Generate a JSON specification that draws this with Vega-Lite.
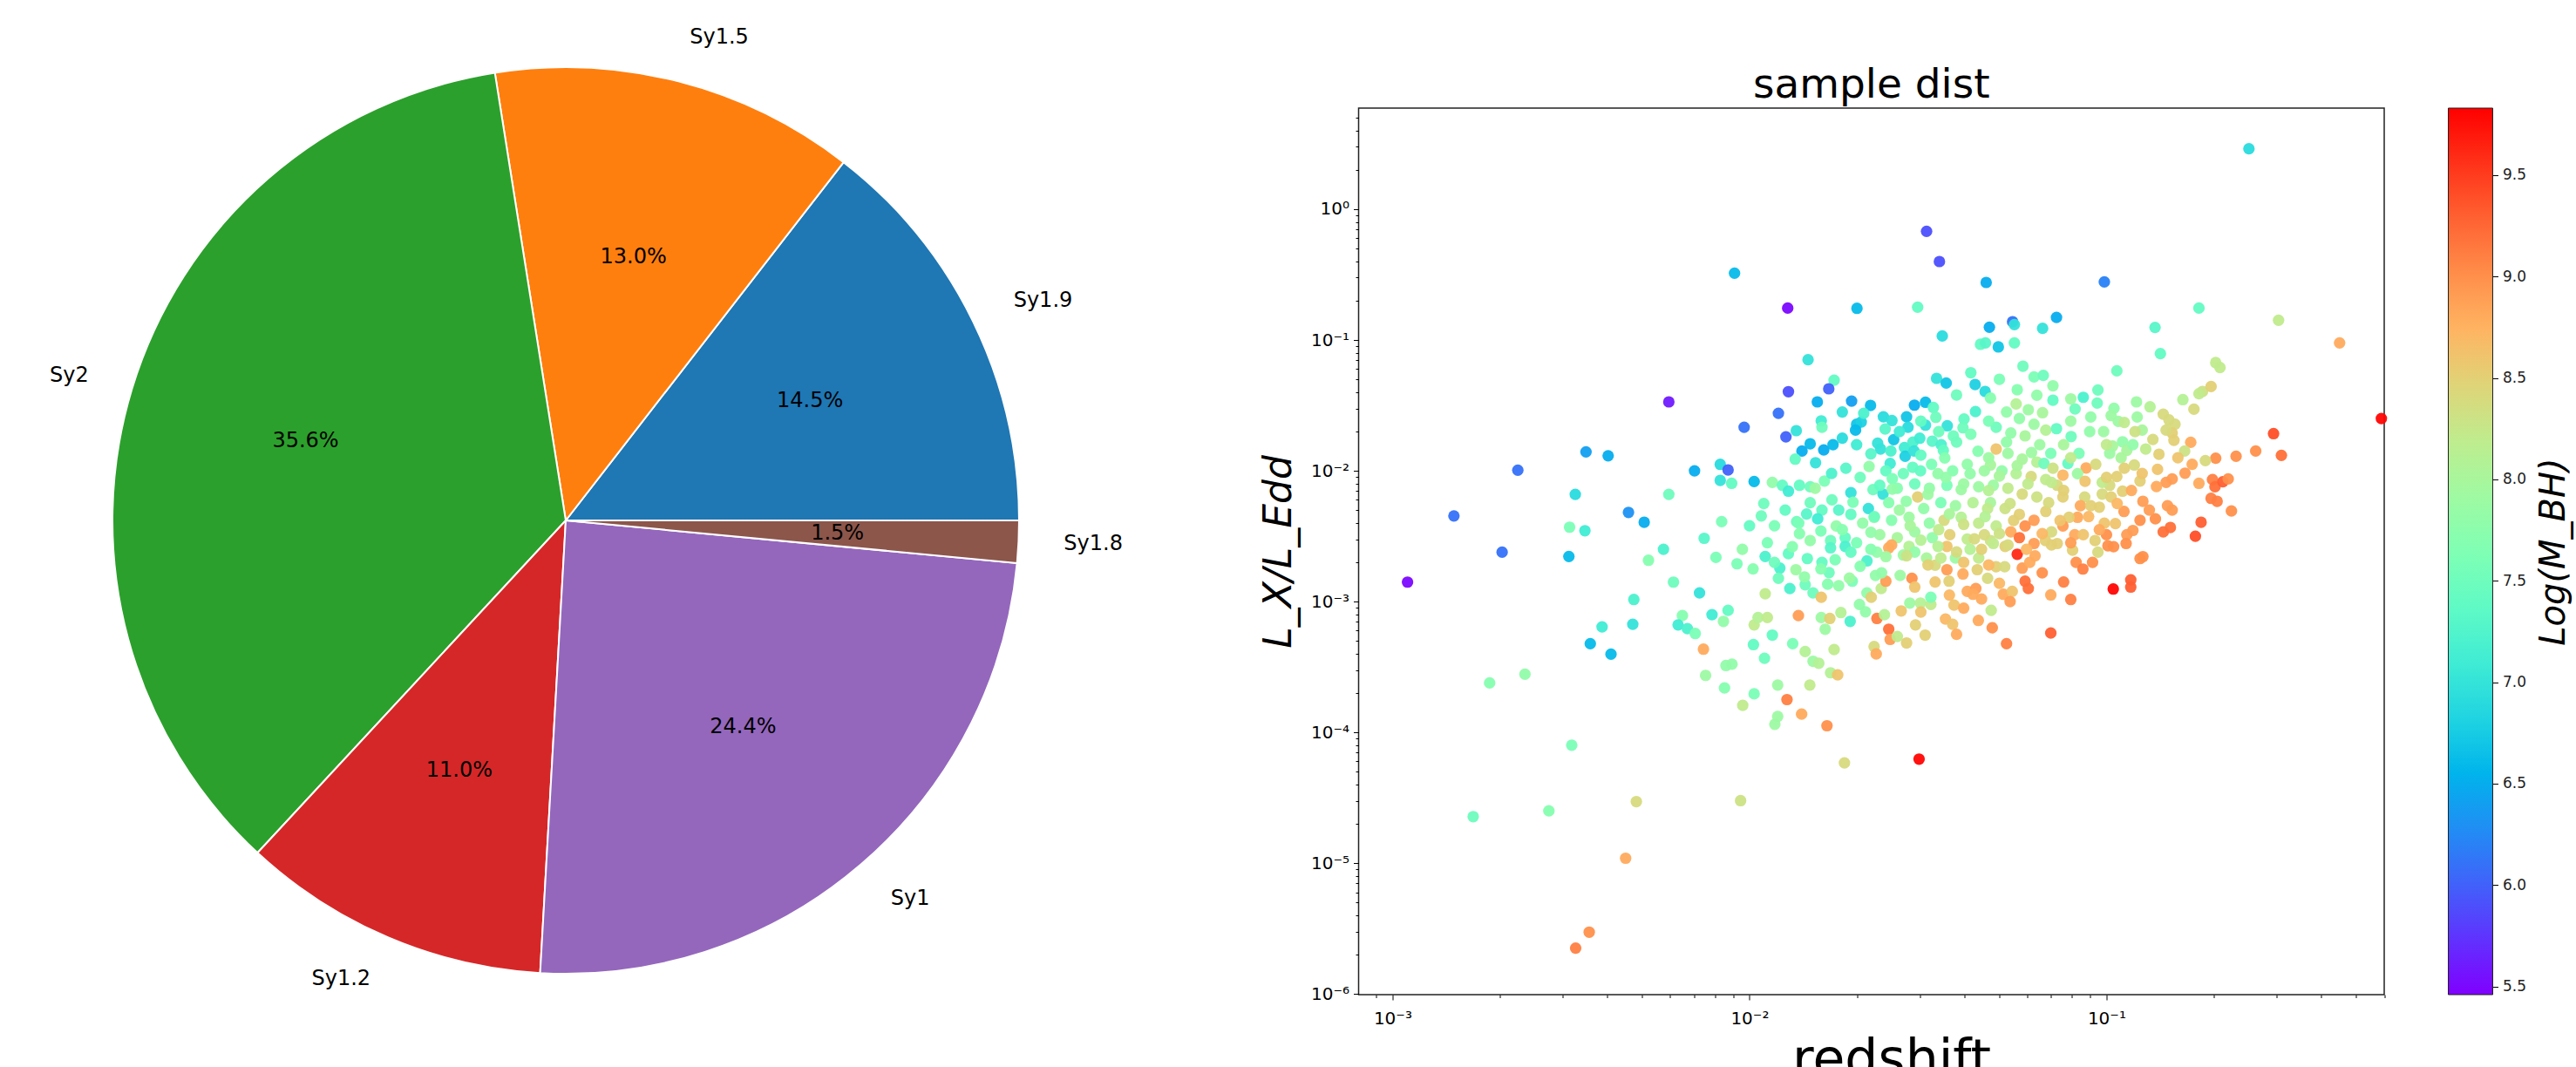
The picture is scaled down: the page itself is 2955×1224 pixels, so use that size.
{
  "$schema": "https://vega.github.io/schema/vega-lite/v6.json",
  "autosize": {"type": "none"},
  "padding": {"left": 0, "top": 124, "right": 2955, "bottom": 1100},
  "background": "white",
  "config": {
    "font": "DejaVu Sans",
    "view": {"stroke": null},
    "axis": {"labelFont": "DejaVu Sans", "titleFont": "DejaVu Sans"}
  },
  "bounds": "flush",
  "spacing": 260.5,
  "hconcat": [
    {
      "width": 1298,
      "height": 946,
      "data": {
        "values": [
          {"type": "Sy1.9", "share": 0.145, "order": 1},
          {"type": "Sy1.5", "share": 0.13, "order": 2},
          {"type": "Sy2", "share": 0.356, "order": 3},
          {"type": "Sy1.2", "share": 0.11, "order": 4},
          {"type": "Sy1", "share": 0.244, "order": 5},
          {"type": "Sy1.8", "share": 0.015, "order": 6}
        ]
      },
      "encoding": {
        "theta": {"field": "share", "type": "quantitative", "stack": true, "scale": {"domain": [0, 1], "range": [1.5708, -4.7124]}},
        "order": {"field": "order", "type": "quantitative"},
        "color": {
          "field": "type", "type": "nominal", "legend": null,
          "scale": {"domain": ["Sy1.9", "Sy1.5", "Sy2", "Sy1.2", "Sy1", "Sy1.8"], "range": ["#1f77b4", "#ff7f0e", "#2ca02c", "#d62728", "#9467bd", "#8c564b"]}
        }
      },
      "layer": [
        {"mark": {"type": "arc", "outerRadius": 520, "stroke": "white", "strokeWidth": 2}},
        {
          "mark": {"type": "text", "radius": 312, "fontSize": 24, "align": "center", "baseline": "middle"},
          "encoding": {"text": {"field": "share", "type": "quantitative", "format": ".1%"}, "color": {"value": "black"}}
        },
        {
          "mark": {"type": "text", "radius": 572, "fontSize": 24, "align": "left", "baseline": "middle"},
          "encoding": {
            "text": {"condition": {"test": "datum.type === 'Sy2' || datum.type === 'Sy1.2'", "value": ""}, "field": "type", "type": "nominal"},
            "color": {"value": "black"}
          }
        },
        {
          "mark": {"type": "text", "radius": 572, "fontSize": 24, "align": "right", "baseline": "middle"},
          "encoding": {
            "text": {"condition": {"test": "datum.type !== 'Sy2' && datum.type !== 'Sy1.2'", "value": ""}, "field": "type", "type": "nominal"},
            "color": {"value": "black"}
          }
        }
      ]
    },
    {
      "bounds": "flush",
      "spacing": 73,
      "hconcat": [
        {
          "width": 1176.5,
          "height": 1017,
          "view": {"stroke": "#222", "strokeWidth": 1.5},
          "title": {"text": "sample dist", "fontSize": 47, "fontWeight": "normal", "color": "black", "frame": "group", "anchor": "middle", "baseline": "alphabetic", "offset": 12, "dy": 47},
          "data": {
            "values": [
              {"logz": -2.226, "logr": -1.473, "logm": 5.6},
              {"logz": -2.458, "logr": -1.855, "logm": 6.4},
              {"logz": -2.396, "logr": -1.885, "logm": 6.5},
              {"logz": -2.649, "logr": -1.995, "logm": 6.1},
              {"logz": -2.154, "logr": -2.0, "logm": 6.5},
              {"logz": -2.488, "logr": -2.18, "logm": 6.9},
              {"logz": -2.226, "logr": -2.18, "logm": 7.5},
              {"logz": -2.828, "logr": -2.345, "logm": 6.1},
              {"logz": -2.339, "logr": -2.318, "logm": 6.3},
              {"logz": -2.295, "logr": -2.393, "logm": 6.5},
              {"logz": -2.504, "logr": -2.431, "logm": 7.6},
              {"logz": -2.461, "logr": -2.458, "logm": 7.1},
              {"logz": -2.127, "logr": -2.516, "logm": 7.3},
              {"logz": -2.958, "logr": -2.851, "logm": 5.5},
              {"logz": -2.693, "logr": -2.622, "logm": 6.1},
              {"logz": -2.506, "logr": -2.655, "logm": 6.6},
              {"logz": -2.283, "logr": -2.684, "logm": 7.7},
              {"logz": -2.241, "logr": -2.6, "logm": 7.2},
              {"logz": -2.213, "logr": -2.851, "logm": 7.5},
              {"logz": -2.14, "logr": -2.933, "logm": 7.0},
              {"logz": -2.324, "logr": -2.984, "logm": 7.2},
              {"logz": -2.327, "logr": -3.173, "logm": 7.0},
              {"logz": -2.413, "logr": -3.193, "logm": 7.1},
              {"logz": -2.446, "logr": -3.322, "logm": 6.6},
              {"logz": -2.388, "logr": -3.402, "logm": 6.6},
              {"logz": -2.188, "logr": -3.107, "logm": 7.7},
              {"logz": -2.2, "logr": -3.178, "logm": 7.1},
              {"logz": -2.174, "logr": -3.207, "logm": 7.2},
              {"logz": -2.152, "logr": -3.244, "logm": 7.6},
              {"logz": -2.129, "logr": -3.364, "logm": 8.8},
              {"logz": -2.123, "logr": -3.564, "logm": 7.9},
              {"logz": -2.728, "logr": -3.622, "logm": 7.7},
              {"logz": -2.629, "logr": -3.555, "logm": 7.8},
              {"logz": -2.498, "logr": -4.098, "logm": 7.6},
              {"logz": -2.774, "logr": -4.644, "logm": 7.5},
              {"logz": -2.562, "logr": -4.6, "logm": 7.7},
              {"logz": -2.317, "logr": -4.529, "logm": 8.4},
              {"logz": -2.347, "logr": -4.962, "logm": 8.8},
              {"logz": -2.449, "logr": -5.527, "logm": 9.0},
              {"logz": -2.487, "logr": -5.649, "logm": 9.1},
              {"logz": -1.504, "logr": -0.169, "logm": 5.9},
              {"logz": -1.468, "logr": -0.4, "logm": 5.9},
              {"logz": -2.042, "logr": -0.489, "logm": 6.6},
              {"logz": -1.337, "logr": -0.56, "logm": 6.5},
              {"logz": -1.893, "logr": -0.756, "logm": 5.5},
              {"logz": -1.699, "logr": -0.758, "logm": 6.6},
              {"logz": -1.529, "logr": -0.749, "logm": 7.4},
              {"logz": -1.328, "logr": -0.902, "logm": 6.5},
              {"logz": -1.263, "logr": -0.86, "logm": 6.1},
              {"logz": -1.258, "logr": -0.882, "logm": 7.0},
              {"logz": -1.46, "logr": -0.969, "logm": 6.9},
              {"logz": -1.179, "logr": -0.911, "logm": 7.0},
              {"logz": -1.353, "logr": -1.033, "logm": 7.4},
              {"logz": -1.339, "logr": -1.022, "logm": 7.3},
              {"logz": -1.303, "logr": -1.053, "logm": 6.7},
              {"logz": -1.258, "logr": -1.022, "logm": 7.4},
              {"logz": -1.836, "logr": -1.151, "logm": 7.0},
              {"logz": -1.234, "logr": -1.2, "logm": 7.5},
              {"logz": -1.203, "logr": -1.282, "logm": 7.6},
              {"logz": -1.177, "logr": -1.271, "logm": 7.5},
              {"logz": -1.763, "logr": -1.307, "logm": 7.4},
              {"logz": -1.891, "logr": -1.395, "logm": 5.9},
              {"logz": -1.778, "logr": -1.373, "logm": 6.0},
              {"logz": -1.476, "logr": -1.293, "logm": 7.0},
              {"logz": -1.449, "logr": -1.329, "logm": 6.7},
              {"logz": -1.368, "logr": -1.34, "logm": 6.8},
              {"logz": -1.34, "logr": -1.393, "logm": 6.9},
              {"logz": -1.325, "logr": -1.444, "logm": 7.7},
              {"logz": -1.919, "logr": -1.56, "logm": 6.1},
              {"logz": -2.015, "logr": -1.667, "logm": 6.1},
              {"logz": -1.898, "logr": -1.74, "logm": 6.0},
              {"logz": -1.81, "logr": -1.473, "logm": 6.5},
              {"logz": -1.714, "logr": -1.467, "logm": 6.4},
              {"logz": -1.661, "logr": -1.5, "logm": 6.6},
              {"logz": -1.799, "logr": -1.618, "logm": 7.1},
              {"logz": -1.797, "logr": -1.667, "logm": 7.5},
              {"logz": -1.869, "logr": -1.693, "logm": 7.0},
              {"logz": -1.7, "logr": -1.644, "logm": 6.7},
              {"logz": -1.687, "logr": -1.627, "logm": 6.8},
              {"logz": -1.703, "logr": -1.689, "logm": 6.6},
              {"logz": -1.625, "logr": -1.587, "logm": 6.9},
              {"logz": -1.601, "logr": -1.616, "logm": 7.0},
              {"logz": -1.56, "logr": -1.587, "logm": 6.7},
              {"logz": -1.538, "logr": -1.498, "logm": 6.5},
              {"logz": -1.507, "logr": -1.476, "logm": 6.6},
              {"logz": -1.485, "logr": -1.516, "logm": 7.4},
              {"logz": -1.478, "logr": -1.591, "logm": 7.5},
              {"logz": -1.556, "logr": -1.667, "logm": 6.9},
              {"logz": -1.507, "logr": -1.651, "logm": 7.0},
              {"logz": -1.446, "logr": -1.656, "logm": 7.0},
              {"logz": -1.399, "logr": -1.604, "logm": 7.4},
              {"logz": -1.367, "logr": -1.547, "logm": 7.2},
              {"logz": -1.429, "logr": -1.733, "logm": 7.5},
              {"logz": -1.402, "logr": -1.671, "logm": 7.5},
              {"logz": -1.83, "logr": -1.793, "logm": 6.6},
              {"logz": -1.853, "logr": -1.849, "logm": 6.5},
              {"logz": -1.792, "logr": -1.84, "logm": 6.5},
              {"logz": -1.766, "logr": -1.8, "logm": 6.6},
              {"logz": -1.872, "logr": -1.911, "logm": 7.4},
              {"logz": -1.815, "logr": -1.938, "logm": 7.0},
              {"logz": -1.641, "logr": -1.789, "logm": 7.0},
              {"logz": -1.596, "logr": -1.762, "logm": 6.7},
              {"logz": -1.633, "logr": -1.833, "logm": 7.0},
              {"logz": -1.604, "logr": -1.849, "logm": 7.2},
              {"logz": -1.566, "logr": -1.822, "logm": 7.1},
              {"logz": -1.542, "logr": -1.78, "logm": 7.2},
              {"logz": -1.523, "logr": -1.751, "logm": 7.1},
              {"logz": -1.564, "logr": -1.889, "logm": 6.8},
              {"logz": -1.539, "logr": -1.849, "logm": 7.0},
              {"logz": -1.488, "logr": -1.773, "logm": 7.3},
              {"logz": -1.463, "logr": -1.8, "logm": 7.2},
              {"logz": -1.457, "logr": -1.844, "logm": 7.4},
              {"logz": -1.453, "logr": -1.902, "logm": 7.7},
              {"logz": -1.606, "logr": -1.944, "logm": 7.1},
              {"logz": -1.665, "logr": -1.967, "logm": 7.8},
              {"logz": -1.543, "logr": -1.973, "logm": 7.4},
              {"logz": -2.082, "logr": -1.951, "logm": 6.9},
              {"logz": -2.06, "logr": -1.993, "logm": 6.0},
              {"logz": -2.082, "logr": -2.073, "logm": 7.0},
              {"logz": -2.05, "logr": -2.096, "logm": 7.4},
              {"logz": -1.987, "logr": -2.082, "logm": 6.6},
              {"logz": -1.936, "logr": -2.089, "logm": 7.8},
              {"logz": -1.908, "logr": -2.111, "logm": 7.4},
              {"logz": -1.891, "logr": -2.156, "logm": 7.1},
              {"logz": -1.86, "logr": -2.111, "logm": 7.4},
              {"logz": -1.83, "logr": -2.122, "logm": 7.5},
              {"logz": -1.79, "logr": -2.078, "logm": 7.6},
              {"logz": -1.816, "logr": -2.133, "logm": 7.9},
              {"logz": -1.716, "logr": -2.167, "logm": 7.0},
              {"logz": -1.654, "logr": -2.144, "logm": 7.5},
              {"logz": -1.626, "logr": -2.178, "logm": 7.0},
              {"logz": -2.078, "logr": -2.389, "logm": 7.6},
              {"logz": -1.967, "logr": -2.345, "logm": 7.5},
              {"logz": -1.868, "logr": -2.389, "logm": 7.5},
              {"logz": -1.253, "logr": -1.489, "logm": 8.1},
              {"logz": -1.219, "logr": -1.533, "logm": 7.9},
              {"logz": -1.195, "logr": -1.422, "logm": 7.8},
              {"logz": -1.179, "logr": -1.556, "logm": 8.0},
              {"logz": -1.244, "logr": -1.6, "logm": 7.8},
              {"logz": -1.203, "logr": -1.644, "logm": 7.9},
              {"logz": -1.17, "logr": -1.689, "logm": 8.1},
              {"logz": -1.309, "logr": -1.667, "logm": 7.5},
              {"logz": -1.268, "logr": -1.711, "logm": 7.8},
              {"logz": -1.228, "logr": -1.733, "logm": 8.0},
              {"logz": -1.187, "logr": -1.8, "logm": 7.9},
              {"logz": -1.309, "logr": -1.833, "logm": 8.6},
              {"logz": -1.276, "logr": -1.867, "logm": 7.9},
              {"logz": -1.236, "logr": -1.911, "logm": 8.0},
              {"logz": -1.195, "logr": -1.933, "logm": 8.1},
              {"logz": -1.325, "logr": -1.956, "logm": 8.0},
              {"logz": -1.293, "logr": -2.0, "logm": 7.8},
              {"logz": -1.253, "logr": -2.022, "logm": 8.1},
              {"logz": -1.211, "logr": -2.044, "logm": 8.4},
              {"logz": -1.17, "logr": -2.067, "logm": 8.2},
              {"logz": -1.317, "logr": -2.111, "logm": 7.9},
              {"logz": -1.276, "logr": -2.133, "logm": 8.2},
              {"logz": -1.236, "logr": -2.178, "logm": 8.4},
              {"logz": -1.195, "logr": -2.2, "logm": 8.3},
              {"logz": -1.325, "logr": -2.244, "logm": 8.0},
              {"logz": -1.284, "logr": -2.289, "logm": 8.3},
              {"logz": -1.244, "logr": -2.333, "logm": 8.5},
              {"logz": -1.203, "logr": -2.378, "logm": 8.9},
              {"logz": -1.17, "logr": -2.311, "logm": 8.5},
              {"logz": -1.309, "logr": -2.422, "logm": 8.2},
              {"logz": -1.268, "logr": -2.467, "logm": 8.8},
              {"logz": -1.228, "logr": -2.422, "logm": 9.0},
              {"logz": -1.244, "logr": -2.511, "logm": 9.2},
              {"logz": -1.203, "logr": -2.556, "logm": 8.9},
              {"logz": -1.325, "logr": -2.533, "logm": 8.3},
              {"logz": -1.284, "logr": -2.578, "logm": 8.5},
              {"logz": -1.618, "logr": -2.0, "logm": 7.4},
              {"logz": -1.569, "logr": -2.022, "logm": 7.5},
              {"logz": -1.521, "logr": -2.0, "logm": 7.4},
              {"logz": -1.472, "logr": -2.022, "logm": 7.8},
              {"logz": -1.431, "logr": -2.0, "logm": 7.7},
              {"logz": -1.382, "logr": -2.022, "logm": 7.8},
              {"logz": -1.342, "logr": -2.0, "logm": 7.9},
              {"logz": -1.635, "logr": -2.111, "logm": 7.4},
              {"logz": -1.586, "logr": -2.133, "logm": 7.7},
              {"logz": -1.537, "logr": -2.1, "logm": 7.5},
              {"logz": -1.496, "logr": -2.133, "logm": 7.8},
              {"logz": -1.447, "logr": -2.111, "logm": 7.6},
              {"logz": -1.407, "logr": -2.144, "logm": 7.9},
              {"logz": -1.358, "logr": -2.122, "logm": 7.9},
              {"logz": -1.61, "logr": -2.244, "logm": 7.7},
              {"logz": -1.561, "logr": -2.233, "logm": 7.8},
              {"logz": -1.529, "logr": -2.2, "logm": 8.5},
              {"logz": -1.512, "logr": -2.289, "logm": 7.8},
              {"logz": -1.464, "logr": -2.244, "logm": 7.6},
              {"logz": -1.423, "logr": -2.267, "logm": 7.9},
              {"logz": -1.374, "logr": -2.244, "logm": 8.1},
              {"logz": -1.333, "logr": -2.289, "logm": 8.2},
              {"logz": -1.651, "logr": -2.356, "logm": 7.8},
              {"logz": -1.602, "logr": -2.378, "logm": 7.7},
              {"logz": -1.553, "logr": -2.356, "logm": 7.9},
              {"logz": -1.496, "logr": -2.4, "logm": 7.8},
              {"logz": -1.455, "logr": -2.378, "logm": 8.4},
              {"logz": -1.407, "logr": -2.356, "logm": 8.1},
              {"logz": -1.358, "logr": -2.4, "logm": 8.2},
              {"logz": -1.635, "logr": -2.489, "logm": 7.9},
              {"logz": -1.586, "logr": -2.511, "logm": 8.0},
              {"logz": -1.537, "logr": -2.467, "logm": 7.9},
              {"logz": -1.488, "logr": -2.511, "logm": 7.8},
              {"logz": -1.439, "logr": -2.489, "logm": 8.5},
              {"logz": -1.39, "logr": -2.522, "logm": 8.2},
              {"logz": -1.342, "logr": -2.489, "logm": 8.4},
              {"logz": -1.61, "logr": -2.589, "logm": 8.8},
              {"logz": -1.553, "logr": -2.578, "logm": 8.1},
              {"logz": -1.447, "logr": -2.578, "logm": 8.6},
              {"logz": -1.83, "logr": -2.244, "logm": 7.5},
              {"logz": -1.797, "logr": -2.3, "logm": 7.4},
              {"logz": -1.809, "logr": -2.367, "logm": 7.1},
              {"logz": -1.769, "logr": -2.222, "logm": 7.5},
              {"logz": -1.757, "logr": -2.422, "logm": 7.8},
              {"logz": -1.716, "logr": -2.333, "logm": 7.4},
              {"logz": -1.683, "logr": -2.4, "logm": 7.8},
              {"logz": -1.732, "logr": -2.511, "logm": 7.4},
              {"logz": -1.773, "logr": -2.533, "logm": 7.5},
              {"logz": -1.83, "logr": -2.533, "logm": 7.8},
              {"logz": -1.667, "logr": -2.289, "logm": 7.0},
              {"logz": -1.862, "logr": -2.4, "logm": 7.6},
              {"logz": -0.601, "logr": 0.462, "logm": 6.9},
              {"logz": -1.006, "logr": -0.556, "logm": 6.2},
              {"logz": -0.741, "logr": -0.756, "logm": 7.4},
              {"logz": -0.518, "logr": -0.849, "logm": 8.2},
              {"logz": -0.347, "logr": -1.022, "logm": 8.8},
              {"logz": -1.14, "logr": -0.827, "logm": 6.5},
              {"logz": -0.864, "logr": -0.904, "logm": 7.3},
              {"logz": -0.849, "logr": -1.104, "logm": 7.4},
              {"logz": -0.971, "logr": -1.236, "logm": 7.5},
              {"logz": -0.694, "logr": -1.173, "logm": 8.2},
              {"logz": -0.682, "logr": -1.211, "logm": 8.2},
              {"logz": -0.731, "logr": -1.393, "logm": 8.3},
              {"logz": -0.707, "logr": -1.356, "logm": 8.5},
              {"logz": -0.741, "logr": -1.411, "logm": 8.2},
              {"logz": -0.786, "logr": -1.456, "logm": 8.1},
              {"logz": -0.755, "logr": -1.529, "logm": 8.4},
              {"logz": -1.024, "logr": -1.382, "logm": 7.5},
              {"logz": -1.065, "logr": -1.438, "logm": 7.2},
              {"logz": -1.15, "logr": -1.46, "logm": 7.4},
              {"logz": -1.026, "logr": -1.482, "logm": 7.5},
              {"logz": -1.088, "logr": -1.527, "logm": 7.5},
              {"logz": -0.979, "logr": -1.522, "logm": 7.8},
              {"logz": -0.916, "logr": -1.473, "logm": 7.9},
              {"logz": -0.878, "logr": -1.511, "logm": 8.1},
              {"logz": -1.044, "logr": -1.589, "logm": 7.8},
              {"logz": -0.987, "logr": -1.578, "logm": 7.9},
              {"logz": -0.967, "logr": -1.622, "logm": 7.9},
              {"logz": -0.914, "logr": -1.589, "logm": 7.9},
              {"logz": -0.9, "logr": -1.689, "logm": 8.0},
              {"logz": -0.841, "logr": -1.567, "logm": 8.4},
              {"logz": -0.825, "logr": -1.611, "logm": 8.4},
              {"logz": -0.808, "logr": -1.644, "logm": 8.4},
              {"logz": -0.816, "logr": -1.711, "logm": 8.5},
              {"logz": -0.811, "logr": -1.767, "logm": 8.5},
              {"logz": -0.833, "logr": -1.689, "logm": 8.4},
              {"logz": -0.764, "logr": -1.782, "logm": 8.8},
              {"logz": -0.781, "logr": -1.849, "logm": 8.3},
              {"logz": -0.853, "logr": -1.873, "logm": 8.5},
              {"logz": -1.14, "logr": -1.678, "logm": 7.4},
              {"logz": -1.099, "logr": -1.738, "logm": 7.5},
              {"logz": -1.047, "logr": -1.7, "logm": 7.8},
              {"logz": -1.008, "logr": -1.7, "logm": 7.9},
              {"logz": -0.983, "logr": -1.811, "logm": 8.0},
              {"logz": -0.955, "logr": -1.778, "logm": 7.8},
              {"logz": -0.943, "logr": -1.844, "logm": 8.0},
              {"logz": -0.926, "logr": -1.8, "logm": 7.8},
              {"logz": -0.89, "logr": -1.833, "logm": 8.2},
              {"logz": -0.991, "logr": -1.867, "logm": 7.9},
              {"logz": -0.959, "logr": -1.9, "logm": 8.0},
              {"logz": -1.156, "logr": -1.867, "logm": 7.6},
              {"logz": -1.077, "logr": -1.867, "logm": 7.6},
              {"logz": -1.108, "logr": -1.944, "logm": 7.4},
              {"logz": -1.175, "logr": -1.944, "logm": 7.5},
              {"logz": -0.532, "logr": -1.716, "logm": 9.4},
              {"logz": -0.582, "logr": -1.849, "logm": 9.0},
              {"logz": -0.51, "logr": -1.882, "logm": 9.2},
              {"logz": -0.637, "logr": -1.889, "logm": 9.0},
              {"logz": -0.694, "logr": -1.904, "logm": 9.0},
              {"logz": -0.723, "logr": -1.922, "logm": 8.4},
              {"logz": -0.23, "logr": -1.6, "logm": 9.8},
              {"logz": -0.922, "logr": -1.956, "logm": 8.4},
              {"logz": -0.906, "logr": -2.078, "logm": 8.5},
              {"logz": -0.857, "logr": -1.989, "logm": 8.6},
              {"logz": -0.833, "logr": -2.089, "logm": 8.9},
              {"logz": -0.816, "logr": -2.062, "logm": 8.9},
              {"logz": -0.78, "logr": -2.018, "logm": 8.9},
              {"logz": -0.741, "logr": -2.096, "logm": 8.8},
              {"logz": -0.703, "logr": -2.067, "logm": 9.1},
              {"logz": -0.696, "logr": -2.122, "logm": 9.2},
              {"logz": -0.674, "logr": -2.084, "logm": 9.3},
              {"logz": -0.659, "logr": -2.062, "logm": 9.0},
              {"logz": -0.707, "logr": -2.211, "logm": 9.1},
              {"logz": -0.69, "logr": -2.233, "logm": 9.1},
              {"logz": -0.65, "logr": -2.307, "logm": 9.0},
              {"logz": -0.898, "logr": -2.233, "logm": 8.9},
              {"logz": -0.829, "logr": -2.267, "logm": 8.9},
              {"logz": -0.816, "logr": -2.3, "logm": 8.9},
              {"logz": -0.863, "logr": -2.367, "logm": 9.0},
              {"logz": -0.906, "logr": -2.378, "logm": 9.0},
              {"logz": -0.735, "logr": -2.393, "logm": 9.3},
              {"logz": -0.751, "logr": -2.5, "logm": 9.4},
              {"logz": -0.841, "logr": -2.467, "logm": 9.2},
              {"logz": -0.821, "logr": -2.433, "logm": 9.2},
              {"logz": -0.951, "logr": -2.311, "logm": 8.9},
              {"logz": -0.955, "logr": -2.156, "logm": 8.5},
              {"logz": -0.971, "logr": -2.044, "logm": 8.5},
              {"logz": -0.991, "logr": -2.111, "logm": 8.4},
              {"logz": -1.012, "logr": -2.089, "logm": 8.2},
              {"logz": -1.012, "logr": -2.178, "logm": 8.4},
              {"logz": -0.987, "logr": -2.2, "logm": 8.5},
              {"logz": -1.02, "logr": -2.278, "logm": 8.5},
              {"logz": -1.006, "logr": -2.4, "logm": 8.6},
              {"logz": -0.975, "logr": -2.404, "logm": 8.6},
              {"logz": -1.0, "logr": -2.489, "logm": 9.0},
              {"logz": -0.943, "logr": -2.489, "logm": 8.9},
              {"logz": -0.926, "logr": -2.456, "logm": 8.9},
              {"logz": -1.061, "logr": -2.2, "logm": 8.4},
              {"logz": -1.073, "logr": -2.267, "logm": 8.8},
              {"logz": -1.044, "logr": -2.267, "logm": 8.5},
              {"logz": -1.081, "logr": -2.356, "logm": 8.8},
              {"logz": -1.057, "logr": -1.978, "logm": 8.8},
              {"logz": -1.081, "logr": -2.022, "logm": 7.9},
              {"logz": -1.122, "logr": -2.033, "logm": 8.7},
              {"logz": -1.138, "logr": -2.111, "logm": 8.4},
              {"logz": -1.122, "logr": -2.2, "logm": 8.5},
              {"logz": -1.162, "logr": -2.244, "logm": 8.4},
              {"logz": -1.105, "logr": -2.356, "logm": 8.5},
              {"logz": -1.122, "logr": -2.422, "logm": 8.9},
              {"logz": -1.089, "logr": -2.489, "logm": 8.8},
              {"logz": -1.065, "logr": -2.489, "logm": 8.6},
              {"logz": -1.032, "logr": -2.533, "logm": 8.5},
              {"logz": -1.154, "logr": -2.467, "logm": 8.4},
              {"logz": -1.171, "logr": -2.533, "logm": 8.5},
              {"logz": -1.154, "logr": -2.089, "logm": 8.2},
              {"logz": -0.981, "logr": -2.904, "logm": 9.8},
              {"logz": -0.932, "logr": -2.833, "logm": 9.3},
              {"logz": -0.932, "logr": -2.889, "logm": 9.3},
              {"logz": -1.156, "logr": -2.949, "logm": 8.8},
              {"logz": -1.1, "logr": -2.984, "logm": 9.1},
              {"logz": -1.156, "logr": -3.24, "logm": 9.3},
              {"logz": -0.898, "logr": -2.656, "logm": 9.0},
              {"logz": -0.906, "logr": -2.671, "logm": 9.0},
              {"logz": -1.085, "logr": -2.7, "logm": 9.0},
              {"logz": -1.066, "logr": -2.751, "logm": 9.1},
              {"logz": -1.039, "logr": -2.7, "logm": 9.0},
              {"logz": -1.095, "logr": -2.607, "logm": 8.5},
              {"logz": -1.024, "logr": -2.622, "logm": 8.4},
              {"logz": -0.996, "logr": -2.573, "logm": 9.0},
              {"logz": -0.945, "logr": -2.556, "logm": 9.0},
              {"logz": -1.154, "logr": -2.567, "logm": 8.5},
              {"logz": -1.138, "logr": -2.556, "logm": 8.5},
              {"logz": -1.525, "logr": -4.204, "logm": 9.8},
              {"logz": -1.734, "logr": -4.233, "logm": 8.4},
              {"logz": -2.025, "logr": -4.522, "logm": 8.3},
              {"logz": -1.783, "logr": -3.949, "logm": 9.0},
              {"logz": -1.854, "logr": -3.86, "logm": 8.8},
              {"logz": -1.895, "logr": -3.749, "logm": 9.1},
              {"logz": -1.929, "logr": -3.938, "logm": 7.9},
              {"logz": -1.921, "logr": -3.878, "logm": 7.9},
              {"logz": -2.019, "logr": -3.793, "logm": 8.2},
              {"logz": -1.987, "logr": -3.705, "logm": 7.6},
              {"logz": -2.07, "logr": -3.66, "logm": 7.7},
              {"logz": -1.921, "logr": -3.638, "logm": 7.9},
              {"logz": -1.831, "logr": -3.638, "logm": 8.2},
              {"logz": -2.066, "logr": -3.489, "logm": 7.8},
              {"logz": -2.049, "logr": -3.478, "logm": 7.8},
              {"logz": -1.958, "logr": -3.433, "logm": 7.5},
              {"logz": -1.989, "logr": -3.329, "logm": 7.4},
              {"logz": -1.936, "logr": -3.256, "logm": 7.4},
              {"logz": -1.879, "logr": -3.322, "logm": 7.6},
              {"logz": -1.844, "logr": -3.382, "logm": 8.1},
              {"logz": -1.822, "logr": -3.456, "logm": 7.9},
              {"logz": -1.806, "logr": -3.471, "logm": 8.1},
              {"logz": -1.763, "logr": -3.367, "logm": 8.2},
              {"logz": -1.773, "logr": -3.544, "logm": 8.1},
              {"logz": -1.753, "logr": -3.56, "logm": 8.6},
              {"logz": -2.105, "logr": -3.1, "logm": 7.1},
              {"logz": -2.06, "logr": -3.067, "logm": 7.4},
              {"logz": -2.073, "logr": -3.151, "logm": 7.8},
              {"logz": -2.094, "logr": -2.662, "logm": 7.6},
              {"logz": -1.956, "logr": -2.655, "logm": 7.2},
              {"logz": -1.891, "logr": -2.633, "logm": 7.4},
              {"logz": -1.838, "logr": -2.671, "logm": 7.4},
              {"logz": -1.915, "logr": -2.744, "logm": 7.2},
              {"logz": -1.87, "logr": -2.756, "logm": 7.9},
              {"logz": -1.887, "logr": -2.9, "logm": 7.2},
              {"logz": -1.844, "logr": -2.871, "logm": 7.5},
              {"logz": -1.956, "logr": -2.94, "logm": 8.2},
              {"logz": -1.822, "logr": -2.933, "logm": 7.5},
              {"logz": -1.797, "logr": -2.7, "logm": 7.4},
              {"logz": -1.777, "logr": -2.778, "logm": 7.5},
              {"logz": -1.781, "logr": -2.867, "logm": 7.7},
              {"logz": -1.75, "logr": -2.878, "logm": 7.8},
              {"logz": -1.799, "logr": -2.967, "logm": 8.6},
              {"logz": -1.863, "logr": -3.107, "logm": 8.9},
              {"logz": -1.987, "logr": -3.178, "logm": 8.2},
              {"logz": -1.976, "logr": -3.122, "logm": 8.1},
              {"logz": -1.95, "logr": -3.122, "logm": 8.2},
              {"logz": -1.799, "logr": -3.122, "logm": 7.9},
              {"logz": -1.775, "logr": -3.129, "logm": 8.5},
              {"logz": -1.788, "logr": -3.211, "logm": 7.9},
              {"logz": -1.744, "logr": -3.084, "logm": 8.1},
              {"logz": -1.718, "logr": -3.151, "logm": 7.2},
              {"logz": -1.712, "logr": -2.844, "logm": 7.6},
              {"logz": -1.692, "logr": -3.022, "logm": 7.8},
              {"logz": -1.675, "logr": -3.078, "logm": 7.8},
              {"logz": -1.671, "logr": -2.933, "logm": 7.8},
              {"logz": -1.659, "logr": -2.967, "logm": 8.5},
              {"logz": -1.647, "logr": -2.8, "logm": 7.8},
              {"logz": -1.631, "logr": -2.9, "logm": 8.2},
              {"logz": -1.618, "logr": -2.844, "logm": 8.9},
              {"logz": -1.643, "logr": -3.129, "logm": 9.1},
              {"logz": -1.622, "logr": -3.1, "logm": 8.1},
              {"logz": -1.61, "logr": -3.211, "logm": 9.2},
              {"logz": -1.606, "logr": -3.289, "logm": 8.9},
              {"logz": -1.586, "logr": -3.267, "logm": 8.2},
              {"logz": -1.651, "logr": -3.344, "logm": 8.4},
              {"logz": -1.645, "logr": -3.4, "logm": 8.8},
              {"logz": -1.56, "logr": -3.316, "logm": 8.5},
              {"logz": -1.575, "logr": -3.071, "logm": 8.6},
              {"logz": -1.535, "logr": -3.178, "logm": 8.5},
              {"logz": -1.508, "logr": -3.256, "logm": 8.5},
              {"logz": -1.551, "logr": -3.011, "logm": 7.9},
              {"logz": -1.521, "logr": -3.011, "logm": 8.1},
              {"logz": -1.492, "logr": -3.022, "logm": 8.2},
              {"logz": -1.492, "logr": -2.967, "logm": 7.6},
              {"logz": -1.545, "logr": -2.822, "logm": 9.0},
              {"logz": -1.537, "logr": -2.889, "logm": 8.6},
              {"logz": -1.578, "logr": -2.8, "logm": 7.9},
              {"logz": -1.427, "logr": -3.027, "logm": 8.6},
              {"logz": -1.451, "logr": -3.133, "logm": 8.7},
              {"logz": -1.431, "logr": -3.173, "logm": 8.6},
              {"logz": -1.359, "logr": -3.144, "logm": 8.8},
              {"logz": -1.323, "logr": -3.067, "logm": 8.2},
              {"logz": -1.28, "logr": -3.322, "logm": 9.1},
              {"logz": -1.39, "logr": -2.922, "logm": 8.8},
              {"logz": -1.366, "logr": -2.9, "logm": 8.9},
              {"logz": -1.374, "logr": -2.944, "logm": 8.8},
              {"logz": -1.402, "logr": -2.789, "logm": 8.8},
              {"logz": -1.362, "logr": -2.756, "logm": 8.5},
              {"logz": -1.333, "logr": -2.822, "logm": 8.4},
              {"logz": -1.289, "logr": -2.944, "logm": 8.8},
              {"logz": -1.264, "logr": -2.922, "logm": 8.6},
              {"logz": -1.25, "logr": -2.638, "logm": 9.6},
              {"logz": -1.228, "logr": -2.844, "logm": 9.2},
              {"logz": -1.219, "logr": -2.9, "logm": 9.2},
              {"logz": -1.236, "logr": -2.744, "logm": 8.9},
              {"logz": -1.215, "logr": -2.7, "logm": 8.8},
              {"logz": -1.224, "logr": -2.6, "logm": 8.7},
              {"logz": -1.309, "logr": -2.733, "logm": 8.5},
              {"logz": -1.285, "logr": -2.733, "logm": 8.4},
              {"logz": -1.447, "logr": -2.756, "logm": 8.9},
              {"logz": -1.441, "logr": -2.844, "logm": 8.5},
              {"logz": -1.48, "logr": -2.722, "logm": 8.4},
              {"logz": -1.464, "logr": -2.667, "logm": 8.2},
              {"logz": -1.602, "logr": -2.567, "logm": 8.8},
              {"logz": -2.035, "logr": -2.711, "logm": 7.6},
              {"logz": -1.919, "logr": -2.822, "logm": 7.5},
              {"logz": -1.846, "logr": -2.811, "logm": 7.8},
              {"logz": -1.773, "logr": -2.589, "logm": 7.3},
              {"logz": -1.732, "logr": -2.578, "logm": 7.2},
              {"logz": -1.716, "logr": -2.622, "logm": 7.4},
              {"logz": -1.671, "logr": -2.689, "logm": 7.2},
              {"logz": -1.643, "logr": -2.622, "logm": 7.8},
              {"logz": -1.618, "logr": -2.656, "logm": 7.9},
              {"logz": -1.569, "logr": -2.644, "logm": 7.9},
              {"logz": -1.537, "logr": -2.622, "logm": 7.8},
              {"logz": -1.504, "logr": -2.667, "logm": 8.0},
              {"logz": -1.472, "logr": -2.578, "logm": 8.1},
              {"logz": -1.423, "logr": -2.667, "logm": 7.9},
              {"logz": -1.382, "logr": -2.6, "logm": 8.1},
              {"logz": -1.358, "logr": -2.667, "logm": 8.2},
              {"logz": -1.317, "logr": -2.556, "logm": 8.2},
              {"logz": -1.276, "logr": -2.567, "logm": 8.4},
              {"logz": -1.74, "logr": -1.55, "logm": 7.0},
              {"logz": -1.68, "logr": -1.56, "logm": 7.2},
              {"logz": -1.62, "logr": -1.68, "logm": 7.3},
              {"logz": -1.58, "logr": -1.7, "logm": 7.1},
              {"logz": -1.52, "logr": -1.62, "logm": 7.4},
              {"logz": -1.47, "logr": -1.7, "logm": 7.5},
              {"logz": -1.74, "logr": -1.75, "logm": 6.9},
              {"logz": -1.7, "logr": -1.8, "logm": 7.1},
              {"logz": -1.66, "logr": -1.87, "logm": 7.3},
              {"logz": -1.52, "logr": -1.88, "logm": 7.4},
              {"logz": -1.49, "logr": -1.95, "logm": 7.6},
              {"logz": -1.42, "logr": -1.78, "logm": 7.5},
              {"logz": -1.38, "logr": -1.72, "logm": 7.6},
              {"logz": -1.36, "logr": -1.85, "logm": 7.7},
              {"logz": -1.73, "logr": -1.98, "logm": 7.3},
              {"logz": -1.69, "logr": -2.05, "logm": 7.5},
              {"logz": -1.77, "logr": -2.02, "logm": 7.2},
              {"logz": -1.6, "logr": -2.06, "logm": 7.6},
              {"logz": -1.96, "logr": -2.25, "logm": 7.5},
              {"logz": -1.93, "logr": -2.42, "logm": 7.6},
              {"logz": -1.9, "logr": -2.3, "logm": 7.4},
              {"logz": -1.86, "logr": -2.48, "logm": 7.7},
              {"logz": -1.95, "logr": -2.55, "logm": 7.6},
              {"logz": -1.88, "logr": -2.58, "logm": 7.7},
              {"logz": -1.84, "logr": -2.33, "logm": 7.3},
              {"logz": -1.8, "logr": -2.46, "logm": 7.6},
              {"logz": -1.74, "logr": -2.45, "logm": 7.7},
              {"logz": -1.7, "logr": -2.55, "logm": 7.6},
              {"logz": -1.66, "logr": -2.47, "logm": 7.8},
              {"logz": -1.65, "logr": -2.35, "logm": 7.5},
              {"logz": -1.71, "logr": -2.24, "logm": 7.6},
              {"logz": -1.75, "logr": -2.3, "logm": 7.3},
              {"logz": -2.0, "logr": -2.42, "logm": 7.4},
              {"logz": -2.02, "logr": -2.6, "logm": 7.8},
              {"logz": -1.99, "logr": -2.75, "logm": 7.7},
              {"logz": -1.93, "logr": -2.7, "logm": 7.5},
              {"logz": -1.8, "logr": -2.75, "logm": 7.7},
              {"logz": -1.76, "logr": -2.68, "logm": 7.6},
              {"logz": -1.69, "logr": -2.73, "logm": 7.7},
              {"logz": -1.72, "logr": -2.82, "logm": 7.9},
              {"logz": -1.63, "logr": -2.78, "logm": 7.8},
              {"logz": -1.66, "logr": -2.6, "logm": 7.7},
              {"logz": -1.58, "logr": -2.3, "logm": 7.9},
              {"logz": -1.55, "logr": -2.42, "logm": 8.0},
              {"logz": -1.52, "logr": -2.53, "logm": 8.1},
              {"logz": -1.47, "logr": -2.45, "logm": 8.2},
              {"logz": -1.44, "logr": -2.33, "logm": 8.0},
              {"logz": -1.4, "logr": -2.41, "logm": 8.3},
              {"logz": -1.37, "logr": -2.52, "logm": 8.4},
              {"logz": -1.34, "logr": -2.35, "logm": 8.1},
              {"logz": -1.3, "logr": -2.48, "logm": 8.3},
              {"logz": -1.5, "logr": -2.18, "logm": 7.9},
              {"logz": -1.45, "logr": -2.05, "logm": 7.8},
              {"logz": -1.4, "logr": -2.1, "logm": 7.9},
              {"logz": -1.33, "logr": -2.15, "logm": 8.1},
              {"logz": -1.3, "logr": -2.04, "logm": 8.0},
              {"logz": -1.27, "logr": -2.25, "logm": 8.3},
              {"logz": -1.26, "logr": -2.38, "logm": 8.5},
              {"logz": -1.6, "logr": -2.14, "logm": 7.8},
              {"logz": -1.56, "logr": -2.65, "logm": 8.3},
              {"logz": -1.5, "logr": -2.72, "logm": 8.5},
              {"logz": -1.42, "logr": -2.62, "logm": 8.4},
              {"logz": -1.4, "logr": -2.7, "logm": 8.6},
              {"logz": -1.35, "logr": -2.6, "logm": 8.5},
              {"logz": -1.33, "logr": -2.72, "logm": 8.7},
              {"logz": -1.25, "logr": -1.96, "logm": 8.0},
              {"logz": -1.22, "logr": -2.1, "logm": 8.2},
              {"logz": -1.21, "logr": -1.86, "logm": 7.9},
              {"logz": -1.28, "logr": -1.78, "logm": 7.8},
              {"logz": -1.33, "logr": -1.9, "logm": 7.9},
              {"logz": -1.39, "logr": -1.95, "logm": 7.8},
              {"logz": -1.15, "logr": -1.98, "logm": 8.3},
              {"logz": -1.12, "logr": -2.15, "logm": 8.5},
              {"logz": -1.1, "logr": -1.9, "logm": 8.2},
              {"logz": -1.06, "logr": -2.08, "logm": 8.6},
              {"logz": -1.03, "logr": -1.95, "logm": 8.4},
              {"logz": -1.0, "logr": -2.05, "logm": 8.5},
              {"logz": -0.97, "logr": -2.25, "logm": 8.7},
              {"logz": -0.93, "logr": -2.15, "logm": 8.8},
              {"logz": -0.95, "logr": -1.98, "logm": 8.5},
              {"logz": -0.9, "logr": -2.02, "logm": 8.6},
              {"logz": -0.88, "logr": -2.3, "logm": 8.9},
              {"logz": -0.86, "logr": -2.12, "logm": 8.8},
              {"logz": -1.05, "logr": -2.35, "logm": 8.7},
              {"logz": -1.02, "logr": -2.45, "logm": 8.8},
              {"logz": -1.13, "logr": -2.38, "logm": 8.6},
              {"logz": -1.18, "logr": -2.48, "logm": 8.7},
              {"logz": -1.1, "logr": -2.55, "logm": 8.9},
              {"logz": -0.98, "logr": -2.58, "logm": 9.0},
              {"logz": -0.92, "logr": -1.7, "logm": 8.3},
              {"logz": -0.87, "logr": -1.76, "logm": 8.4},
              {"logz": -0.95, "logr": -1.63, "logm": 8.2},
              {"logz": -1.1, "logr": -1.62, "logm": 7.9},
              {"logz": -1.12, "logr": -1.8, "logm": 8.0},
              {"logz": -1.0, "logr": -1.8, "logm": 8.2},
              {"logz": -0.8, "logr": -1.9, "logm": 8.6},
              {"logz": -0.76, "logr": -1.95, "logm": 8.8},
              {"logz": -1.48, "logr": -2.85, "logm": 8.6},
              {"logz": -1.44, "logr": -2.95, "logm": 8.7},
              {"logz": -1.4, "logr": -3.05, "logm": 8.8},
              {"logz": -1.35, "logr": -2.98, "logm": 8.8},
              {"logz": -1.3, "logr": -2.86, "logm": 8.7},
              {"logz": -1.27, "logr": -3.0, "logm": 8.9},
              {"logz": -1.32, "logr": -3.2, "logm": 9.0},
              {"logz": -1.42, "logr": -3.25, "logm": 8.8},
              {"logz": -1.52, "logr": -3.08, "logm": 8.6},
              {"logz": -1.18, "logr": -2.78, "logm": 9.0},
              {"logz": -1.12, "logr": -2.85, "logm": 9.1},
              {"logz": -1.2, "logr": -2.65, "logm": 8.8},
              {"logz": -1.42, "logr": -1.42, "logm": 7.5},
              {"logz": -1.38, "logr": -1.25, "logm": 7.4},
              {"logz": -1.3, "logr": -1.3, "logm": 7.6},
              {"logz": -1.25, "logr": -1.38, "logm": 7.7},
              {"logz": -1.15, "logr": -1.35, "logm": 7.8},
              {"logz": -1.1, "logr": -1.45, "logm": 7.9},
              {"logz": -1.28, "logr": -1.55, "logm": 7.8},
              {"logz": -1.33, "logr": -1.62, "logm": 7.6}
            ]
          },
          "mark": {"type": "circle", "size": 175, "opacity": 0.95},
          "encoding": {
            "x": {
              "field": "logz", "type": "quantitative",
              "scale": {"domain": [-3.095, -0.222], "nice": false, "zero": false},
              "axis": {
                "values": [-3.046, -3, -2.699, -2.523, -2.398, -2.301, -2.222, -2.155, -2.097, -2.046, -2, -1.699, -1.523, -1.398, -1.301, -1.222, -1.155, -1.097, -1.046, -1, -0.699, -0.523, -0.398, -0.301, -0.222],
                "labelExpr": "datum.value == -3 ? '10⁻³' : datum.value == -2 ? '10⁻²' : datum.value == -1 ? '10⁻¹' : ''",
                "tickSize": {"condition": {"test": "datum.value == round(datum.value)", "value": 6}, "value": 3.5},
                "domain": false, "grid": false, "tickColor": "black", "tickWidth": 1,
                "labelFontSize": 20, "labelColor": "black", "labelPadding": 11, "labelFlush": false, "labelOverlap": false,
                "title": "redshift", "titleFontSize": 60, "titleFontWeight": "normal", "titleColor": "black", "titlePadding": 9, "titleX": 611
              }
            },
            "y": {
              "field": "logr", "type": "quantitative",
              "scale": {"domain": [-6.005, 0.773], "nice": false, "zero": false},
              "axis": {
                "values": [-6, -5.699, -5.523, -5.398, -5.301, -5.222, -5.155, -5.097, -5.046, -5, -4.699, -4.523, -4.398, -4.301, -4.222, -4.155, -4.097, -4.046, -4, -3.699, -3.523, -3.398, -3.301, -3.222, -3.155, -3.097, -3.046, -3, -2.699, -2.523, -2.398, -2.301, -2.222, -2.155, -2.097, -2.046, -2, -1.699, -1.523, -1.398, -1.301, -1.222, -1.155, -1.097, -1.046, -1, -0.699, -0.523, -0.398, -0.301, -0.222, -0.155, -0.097, -0.046, 0, 0.301, 0.477, 0.602, 0.699],
                "labelExpr": "datum.value == 0 ? '10⁰' : datum.value == -1 ? '10⁻¹' : datum.value == -2 ? '10⁻²' : datum.value == -3 ? '10⁻³' : datum.value == -4 ? '10⁻⁴' : datum.value == -5 ? '10⁻⁵' : datum.value == -6 ? '10⁻⁶' : ''",
                "tickSize": {"condition": {"test": "datum.value == round(datum.value)", "value": 6}, "value": 3.5},
                "domain": false, "grid": false, "tickColor": "black", "tickWidth": 1,
                "labelFontSize": 20, "labelColor": "black", "labelPadding": 5, "labelFlush": false, "labelOverlap": false,
                "title": "L_X/L_Edd", "titleFontSize": 44, "titleFontStyle": "italic", "titleFontWeight": "normal", "titleColor": "black", "titlePadding": 14
              }
            },
            "color": {
              "field": "logm", "type": "quantitative", "legend": null,
              "scale": {
                "type": "linear", "interpolate": "rgb",
                "domain": [5.46, 5.733, 6.006, 6.279, 6.553, 6.826, 7.099, 7.372, 7.645, 7.918, 8.191, 8.464, 8.738, 9.011, 9.284, 9.557, 9.83],
                "range": ["#8000ff", "#6032fe", "#4062fa", "#208ef4", "#00b4ec", "#20d4e1", "#40ecd4", "#60fac5", "#80ffb4", "#9ffaa2", "#bfec8e", "#dfd478", "#ffb462", "#ff8e4a", "#ff6232", "#ff3219", "#ff0000"]
              }
            }
          }
        },
        {
          "width": 51,
          "height": 1017,
          "data": {"values": [{}]},
          "mark": {
            "type": "rect",
            "stroke": "#222",
            "strokeWidth": 1,
            "fill": {
              "gradient": "linear", "x1": 0, "y1": 1, "x2": 0, "y2": 0,
              "stops": [
                {"offset": 0, "color": "#8000ff"},
                {"offset": 0.0625, "color": "#6032fe"},
                {"offset": 0.125, "color": "#4062fa"},
                {"offset": 0.1875, "color": "#208ef4"},
                {"offset": 0.25, "color": "#00b4ec"},
                {"offset": 0.3125, "color": "#20d4e1"},
                {"offset": 0.375, "color": "#40ecd4"},
                {"offset": 0.4375, "color": "#60fac5"},
                {"offset": 0.5, "color": "#80ffb4"},
                {"offset": 0.5625, "color": "#9ffaa2"},
                {"offset": 0.625, "color": "#bfec8e"},
                {"offset": 0.6875, "color": "#dfd478"},
                {"offset": 0.75, "color": "#ffb462"},
                {"offset": 0.8125, "color": "#ff8e4a"},
                {"offset": 0.875, "color": "#ff6232"},
                {"offset": 0.9375, "color": "#ff3219"},
                {"offset": 1, "color": "#ff0000"}
              ]
            }
          },
          "encoding": {
            "y": {
              "datum": 5.46, "type": "quantitative",
              "scale": {"domain": [5.46, 9.83], "nice": false, "zero": false},
              "axis": {
                "orient": "right",
                "values": [5.5, 6, 6.5, 7, 7.5, 8, 8.5, 9, 9.5],
                "format": ".1f",
                "domain": false, "grid": false, "tickSize": 6, "tickColor": "black",
                "labelFontSize": 17, "labelColor": "#222", "labelPadding": 5,
                "title": "Log(M_BH)", "titleFontSize": 40, "titleFontStyle": "italic", "titleFontWeight": "normal", "titleColor": "black",
                "titleAngle": 270, "titleBaseline": "top", "titlePadding": 12
              }
            },
            "y2": {"datum": 9.83}
          }
        }
      ]
    }
  ]
}
